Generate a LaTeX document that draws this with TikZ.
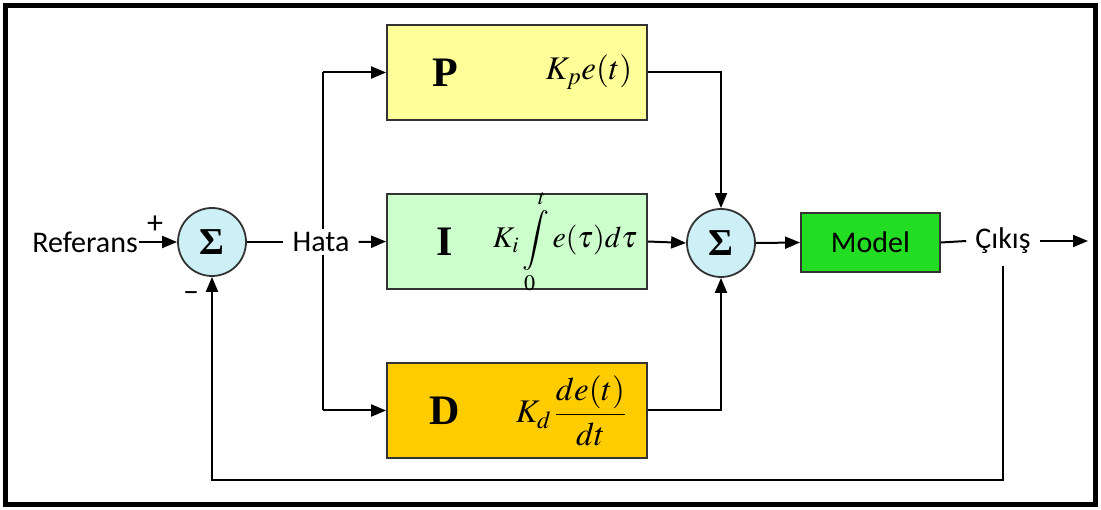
\documentclass[tikz,border=0pt]{standalone}
\usepackage{mathptmx}
\usepackage{fontspec}
\setmainfont{Liberation Serif}
\newfontfamily\labelfont{Carlito}
\usetikzlibrary{positioning, arrows.meta, calc}

\definecolor{sumfill}{HTML}{CCF0F6}
\definecolor{pfill}{HTML}{FFFF99}
\definecolor{ifill}{HTML}{CCFFCC}
\definecolor{dfill}{HTML}{FFCC00}
\definecolor{modelgreen}{HTML}{22DD22}

\begin{document}
\begin{tikzpicture}[
    x=1pt, y=-1pt,
    >={Triangle[length=15pt,width=12pt]},
    sum/.style    ={circle, draw=black!80, line width=1.8pt, fill=sumfill, minimum size=68pt, inner sep=0pt, font=\fontsize{38}{40}\selectfont\bfseries},
    term/.style   ={rectangle, draw=black!80, line width=1.8pt, minimum width=260pt, minimum height=95pt, inner sep=0pt},
    gain/.style   ={font=\fontsize{42}{46}\selectfont\bfseries},
    formula/.style={font=\fontsize{33}{36}\selectfont},
    plant/.style  ={rectangle, draw=black!80, line width=1.8pt, fill=modelgreen, minimum width=139pt, minimum height=59pt, font=\labelfont\fontsize{30}{34}\selectfont},
    signal/.style ={font=\labelfont\fontsize{30}{34}\selectfont, inner xsep=9pt, inner ysep=3pt},
    sign/.style   ={font=\labelfont\fontsize{32}{34}\selectfont, inner sep=0pt},
    arrow/.style  ={->, line width=2pt},
    wire/.style   ={line width=2pt},
]

\fill[white] (0,0) rectangle (1101,510);
\useasboundingbox (0,0) rectangle (1101,510);
\draw[line width=5pt] (5.5,5.5) rectangle (1095.5,504.5);

%==================== SUMMING JUNCTIONS ====================

\node[sum] (sum1) at (212,242) {Σ};
\node[sum] (sum2) at (721,243) {Σ};

\node[signal, inner xsep=1pt, anchor=east] (ref) at (139,242) {Referans};
\node[sign] (plus)  at (155,225) {+};
\node[sign] (minus) at (191,297) {–};

%==================== P / I / D TERMS ====================

\node[term, fill=pfill] (P) at (517,72.5)  {};
\node[term, fill=ifill] (I) at (517,241.5) {};
\node[term, fill=dfill] (D) at (517,410.5) {};

\node[gain] (Pname) at ([xshift=-72pt]P.center) {P};
\node[gain] (Iname) at ([xshift=-72pt]I.center) {I};
\node[gain] (Dname) at ([xshift=-72pt]D.center) {D};

\node[formula] (Pterm) at ([xshift=72pt]P.center) {$K_p e(t)$};
\node[formula, font=\fontsize{30}{33}\selectfont] (Iterm) at ([xshift=48pt]I.center) {$K_i\displaystyle\int\limits_0^t e(\tau)d\tau$};
\node[formula] (Dterm) at ([xshift=54pt]D.center) {$K_d\,\displaystyle\frac{de(t)}{dt}$};

%==================== PLANT ====================

\node[plant] (model) at (870.5,242.5) {Model};
\node[signal, inner ysep=12pt] (cikis) at (1003,241) {Çıkış};
\coordinate (out) at (1088,241);
\coordinate (split) at (323,242);
\coordinate (fb) at (0,480);

%==================== ARROWS ====================

\draw[wire]  (split |- P.west) -- (split |- D.west);
\node[signal, fill=white] (hata) at (321,242) {Hata};

\draw[arrow] (ref.east) -- (sum1.west);
\draw[wire]  (sum1.east) -- (hata.west);
\draw[arrow] (hata.east) -- (I.west);
\draw[arrow] (split |- P.west) -- (P.west);
\draw[arrow] (split |- D.west) -- (D.west);

\draw[arrow] (P.east) -| (sum2.north);
\draw[arrow] (I.east) -- (sum2.west);
\draw[arrow] (D.east) -| (sum2.south);

\draw[arrow] (sum2.east) -- (model.west);
\draw[wire]  (model.east) -- (cikis.west);
\draw[arrow] (cikis.east) -- (out);

% feedback path
\draw[arrow] (cikis.south) -- (cikis.south |- fb) -| (sum1.south);

\end{tikzpicture}
\end{document}
